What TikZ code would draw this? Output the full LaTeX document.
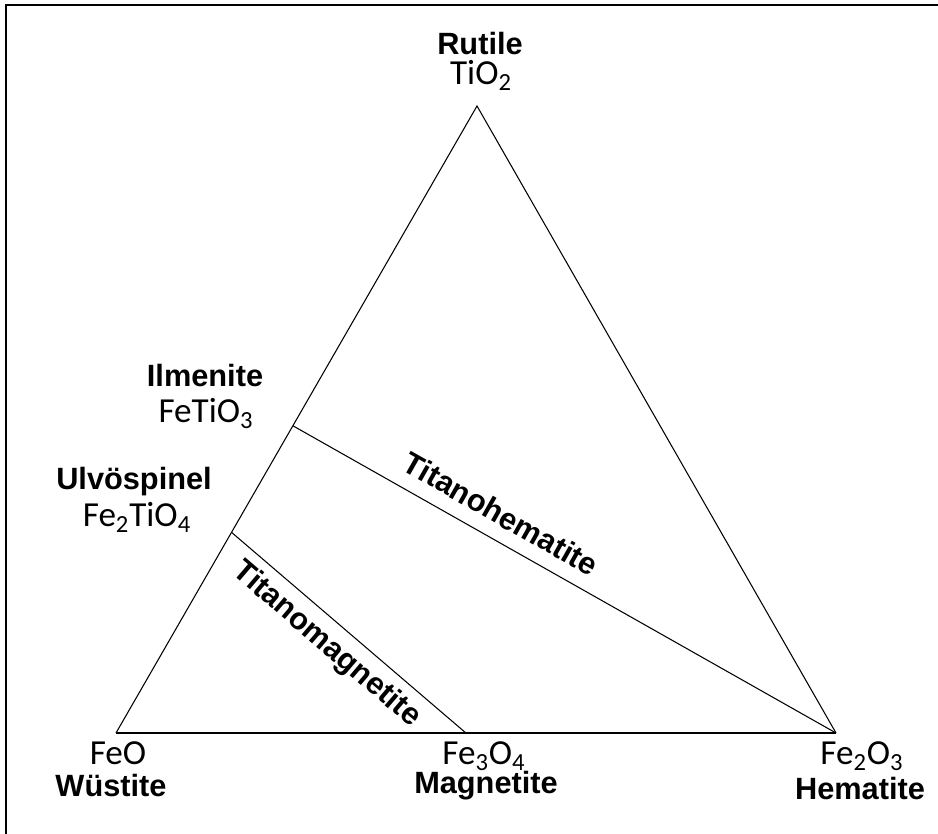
\documentclass[tikz,border=0pt]{standalone}
\usepackage{fontspec}
\setmainfont{Liberation Sans}
\newfontfamily\formfont{Carlito}
\usepackage{tikz}
\usetikzlibrary{positioning,calc}

\begin{document}
\begin{tikzpicture}[x=0.02cm, y=-0.02cm,
    mineral/.style={inner sep=0pt, anchor=base, font=\fontsize{17.5}{20}\selectfont\bfseries},
    formula/.style={inner sep=0pt, anchor=base, font=\fontsize{20}{24}\selectfont\formfont},
    series/.style={inner sep=0pt, sloped, font=\fontsize{17.5}{20}\selectfont\bfseries}]
	\useasboundingbox (0,0) rectangle (938,834);
	\draw[line width=1.2pt] (6,834) -- (6,5) -- (938,5);
	
	\coordinate (tio2) at (477,106);
	\coordinate (feo) at (116,733);
	\coordinate (fe2o3) at (836,733);
	\coordinate (ilm) at ($(feo)!0.49!(tio2)$);
	\coordinate (usp) at ($(feo)!0.32!(tio2)$);
	\coordinate (mag) at ($(feo)!0.486!(fe2o3)$);
	
	% triangle
	\draw[line width=0.6pt] (feo) -- (tio2) -- (fe2o3);
	\draw[line width=1.7pt] (feo) -- (fe2o3);
	
	% solid solution series
	\draw[line width=0.6pt] (ilm) -- node[series, pos=0.36, above=8pt] (hemss) {Titanohematite} (fe2o3);
	\draw[line width=0.6pt] (usp) -- node[series, pos=0.47, below=5pt] (magss) {Titanomagnetite} (mag);
	
	% end members
	\node[mineral] (rutile) at (480,55) {Rutile};
	\node[formula] (tio2lab) at (481,85) {TiO\textsubscript{2}};
	\node[mineral] (ilmenite) at (205,387) {Ilmenite};
	\node[formula] (ilmlab) at (206,423) {FeTiO\textsubscript{3}};
	\node[mineral] (ulvo) at (134,490) {Ulvöspinel};
	\node[formula] (usplab) at (137,527) {Fe\textsubscript{2}TiO\textsubscript{4}};
	\node[formula] (feolab) at (118,765) {FeO};
	\node[mineral] (wustite) at (111,797) {Wüstite};
	\node[formula] (maglab) at (484,765) {Fe\textsubscript{3}O\textsubscript{4}};
	\node[mineral] (magnetite) at (486,794) {Magnetite};
	\node[formula] (hemlab) at (862,765) {Fe\textsubscript{2}O\textsubscript{3}};
	\node[mineral] (hematite) at (860,800) {Hematite};
\end{tikzpicture}
\end{document}
